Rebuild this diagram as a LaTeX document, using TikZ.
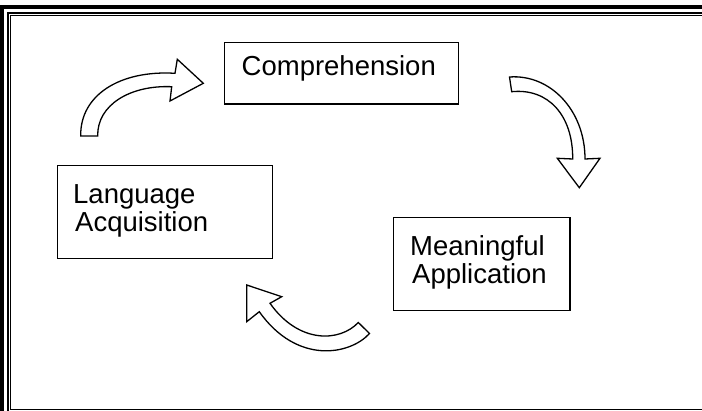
\documentclass[tikz,border=0pt]{standalone}
\usepackage{fontspec}
\setmainfont{Liberation Sans}
\begin{document}
\begin{tikzpicture}[x=1pt,y=-1pt,
  box/.style={draw, line width=1.3pt, inner sep=0pt, anchor=north west},
  lbl/.style={anchor=base west, inner sep=0pt, font=\fontsize{27.5}{29}\selectfont},
  blockarrow/.style={draw, line width=1.3pt, fill=white, line join=miter, miter limit=20}]
\useasboundingbox (0,0) rectangle (702,411);

% page border: thick outer line, thinner middle line, thin inner frame
\draw[line width=3.6pt] (2.3,411) -- (2.3,7) -- (702,7);
\draw[line width=2pt] (8,411) -- (8,13) -- (702,13);
\draw[line width=1pt] (702,409.3) -- (10.5,409.3) -- (10.5,15.3) -- (702,15.3);

% boxes
\node[box, minimum width=234pt, minimum height=61.3pt] (compbox) at (224,42) {};
\node[box, minimum width=215pt, minimum height=93pt] (langbox) at (56.7,165) {};
\node[box, minimum width=176.6pt, minimum height=93.3pt] (meanbox) at (392.7,216.7) {};

% labels
\node[lbl] (comptxt) at (241.5,76) {Comprehension};
\node[lbl] (lang1) at (73,203.3) {Language};
\node[lbl] (lang2) at (75,231.7) {Acquisition};
\node[lbl] (mean1) at (410,256) {Meaningful};
\node[lbl] (mean2) at (412,284) {Application};

% curved block arrow, lower left up to the top box
\draw[blockarrow] (80.7,136) .. controls (80,95) and (120,70) .. (175,73.3)
  -- (177.3,59.3) -- (203.3,83.3) -- (170,101) -- (171.7,86.7)
  .. controls (130,85) and (97,105) .. (97.7,136) -- cycle;

% curved block arrow, top right down
\draw[blockarrow] (509.5,77) .. controls (550,74) and (585,110) .. (585,159)
  -- (600,158.3) -- (579.3,187.7) -- (557.3,158.3) -- (572.7,159)
  .. controls (573,115) and (548,88) .. (511.7,91.7) -- cycle;

% curved block arrow, bottom pointing up-left
\draw[blockarrow] (358.3,322.5) .. controls (340,342) and (299,344.3) .. (270,303.3)
  -- (281.7,296.7) -- (246.7,285) -- (246.7,321.7) -- (259.3,311.7)
  .. controls (297,365) and (350,355) .. (369.5,333.5) -- cycle;
\end{tikzpicture}
\end{document}
